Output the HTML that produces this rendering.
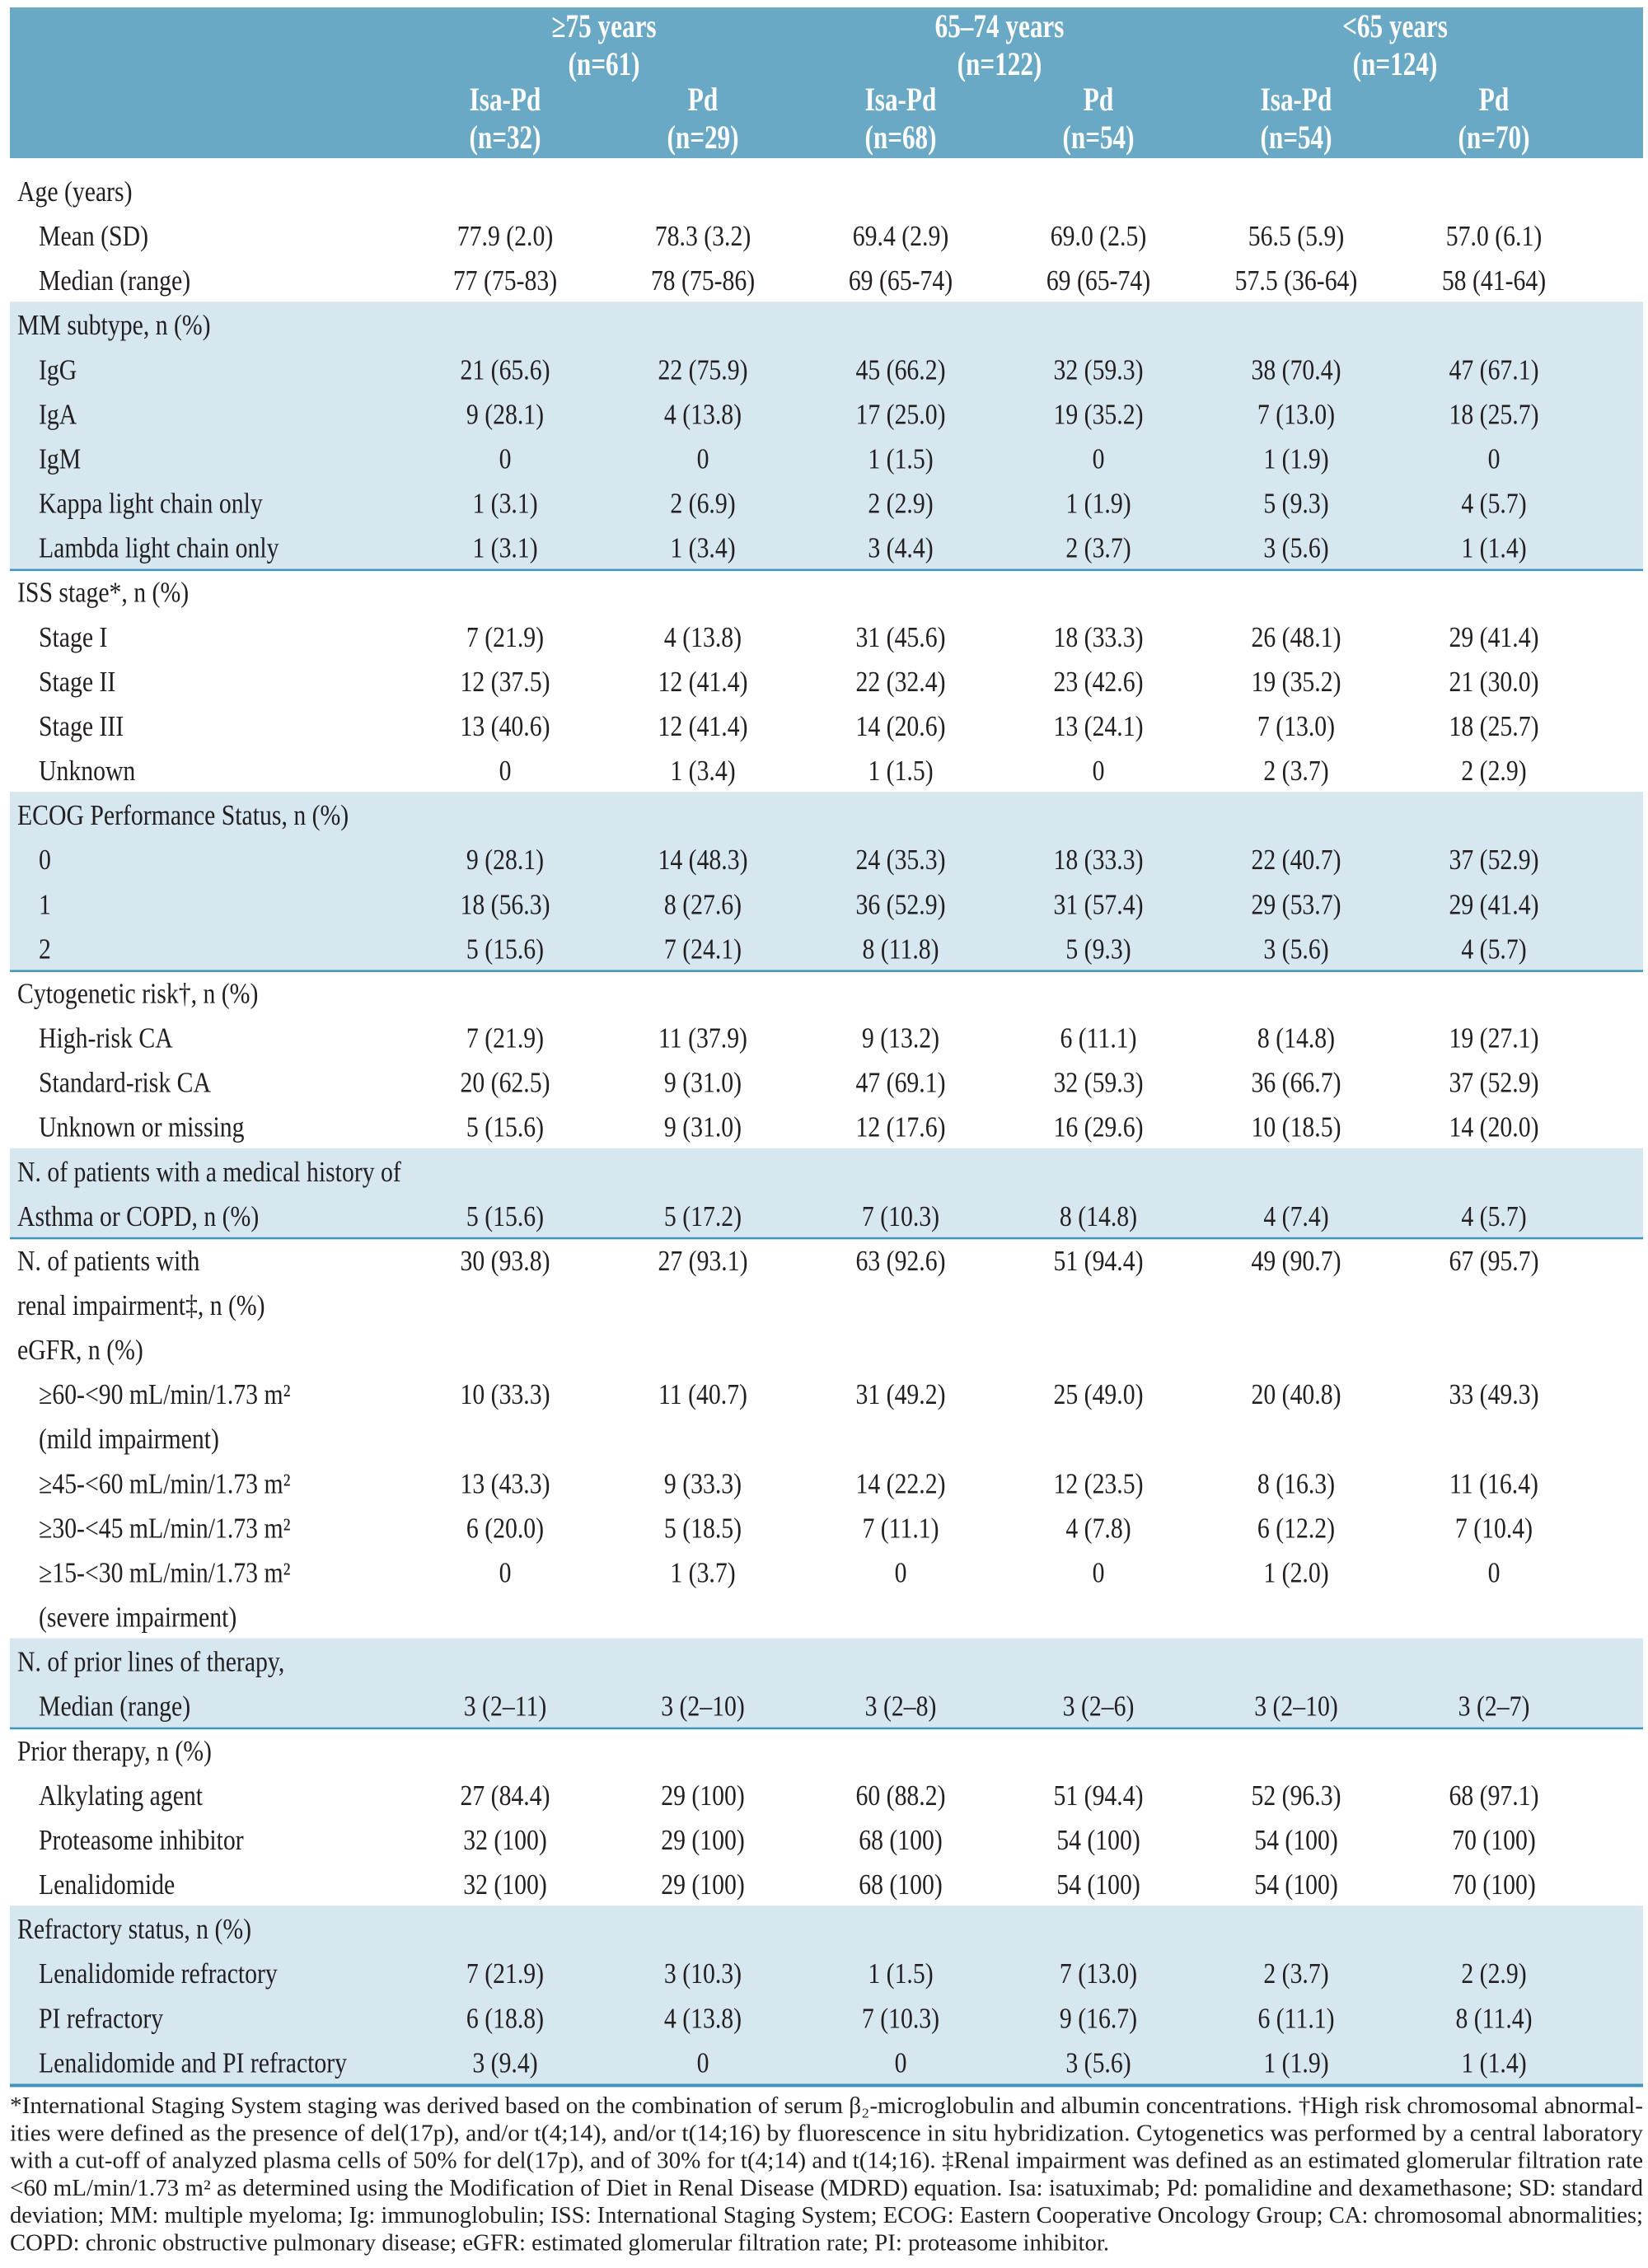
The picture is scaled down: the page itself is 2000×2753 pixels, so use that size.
<!DOCTYPE html>
<html><head><meta charset="utf-8"><style>
html,body{margin:0;padding:0;background:#fff}
svg{display:block}
text{font-family:"Liberation Serif",serif;fill:#231f20}
</style></head><body>
<svg id="t" width="2000" height="2753" viewBox="0 0 2000 2753" xmlns="http://www.w3.org/2000/svg"></svg>
<script>
const groupHeaders=[["≥75 years","(n=61)"],["65–74 years","(n=122)"],["<65 years","(n=124)"]];
const armHeaders=[["Isa-Pd","(n=32)"],["Pd","(n=29)"],["Isa-Pd","(n=68)"],["Pd","(n=54)"],["Isa-Pd","(n=54)"],["Pd","(n=70)"]];
// [label, indent(0/1), band(0/1), lineBelow(0/1), values]
const rows=[
["Age (years)",0,0,0,[]],
["Mean (SD)",1,0,0,["77.9 (2.0)","78.3 (3.2)","69.4 (2.9)","69.0 (2.5)","56.5 (5.9)","57.0 (6.1)"]],
["Median (range)",1,0,0,["77 (75-83)","78 (75-86)","69 (65-74)","69 (65-74)","57.5 (36-64)","58 (41-64)"]],
["MM subtype, n (%)",0,1,0,[]],
["IgG",1,1,0,["21 (65.6)","22 (75.9)","45 (66.2)","32 (59.3)","38 (70.4)","47 (67.1)"]],
["IgA",1,1,0,["9 (28.1)","4 (13.8)","17 (25.0)","19 (35.2)","7 (13.0)","18 (25.7)"]],
["IgM",1,1,0,["0","0","1 (1.5)","0","1 (1.9)","0"]],
["Kappa light chain only",1,1,0,["1 (3.1)","2 (6.9)","2 (2.9)","1 (1.9)","5 (9.3)","4 (5.7)"]],
["Lambda light chain only",1,1,1,["1 (3.1)","1 (3.4)","3 (4.4)","2 (3.7)","3 (5.6)","1 (1.4)"]],
["ISS stage*, n (%)",0,0,0,[]],
["Stage I",1,0,0,["7 (21.9)","4 (13.8)","31 (45.6)","18 (33.3)","26 (48.1)","29 (41.4)"]],
["Stage II",1,0,0,["12 (37.5)","12 (41.4)","22 (32.4)","23 (42.6)","19 (35.2)","21 (30.0)"]],
["Stage III",1,0,0,["13 (40.6)","12 (41.4)","14 (20.6)","13 (24.1)","7 (13.0)","18 (25.7)"]],
["Unknown",1,0,0,["0","1 (3.4)","1 (1.5)","0","2 (3.7)","2 (2.9)"]],
["ECOG Performance Status, n (%)",0,1,0,[]],
["0",1,1,0,["9 (28.1)","14 (48.3)","24 (35.3)","18 (33.3)","22 (40.7)","37 (52.9)"]],
["1",1,1,0,["18 (56.3)","8 (27.6)","36 (52.9)","31 (57.4)","29 (53.7)","29 (41.4)"]],
["2",1,1,1,["5 (15.6)","7 (24.1)","8 (11.8)","5 (9.3)","3 (5.6)","4 (5.7)"]],
["Cytogenetic risk†, n (%)",0,0,0,[]],
["High-risk CA",1,0,0,["7 (21.9)","11 (37.9)","9 (13.2)","6 (11.1)","8 (14.8)","19 (27.1)"]],
["Standard-risk CA",1,0,0,["20 (62.5)","9 (31.0)","47 (69.1)","32 (59.3)","36 (66.7)","37 (52.9)"]],
["Unknown or missing",1,0,0,["5 (15.6)","9 (31.0)","12 (17.6)","16 (29.6)","10 (18.5)","14 (20.0)"]],
["N. of patients with a medical history of",0,1,0,[]],
["Asthma or COPD, n (%)",0,1,1,["5 (15.6)","5 (17.2)","7 (10.3)","8 (14.8)","4 (7.4)","4 (5.7)"]],
["N. of patients with",0,0,0,["30 (93.8)","27 (93.1)","63 (92.6)","51 (94.4)","49 (90.7)","67 (95.7)"]],
["renal impairment‡, n (%)",0,0,0,[]],
["eGFR, n (%)",0,0,0,[]],
["≥60-<90 mL/min/1.73 m²",1,0,0,["10 (33.3)","11 (40.7)","31 (49.2)","25 (49.0)","20 (40.8)","33 (49.3)"]],
["(mild impairment)",1,0,0,[]],
["≥45-<60 mL/min/1.73 m²",1,0,0,["13 (43.3)","9 (33.3)","14 (22.2)","12 (23.5)","8 (16.3)","11 (16.4)"]],
["≥30-<45 mL/min/1.73 m²",1,0,0,["6 (20.0)","5 (18.5)","7 (11.1)","4 (7.8)","6 (12.2)","7 (10.4)"]],
["≥15-<30 mL/min/1.73 m²",1,0,0,["0","1 (3.7)","0","0","1 (2.0)","0"]],
["(severe impairment)",1,0,0,[]],
["N. of prior lines of therapy,",0,1,0,[]],
["Median (range)",1,1,1,["3 (2–11)","3 (2–10)","3 (2–8)","3 (2–6)","3 (2–10)","3 (2–7)"]],
["Prior therapy, n (%)",0,0,0,[]],
["Alkylating agent",1,0,0,["27 (84.4)","29 (100)","60 (88.2)","51 (94.4)","52 (96.3)","68 (97.1)"]],
["Proteasome inhibitor",1,0,0,["32 (100)","29 (100)","68 (100)","54 (100)","54 (100)","70 (100)"]],
["Lenalidomide",1,0,0,["32 (100)","29 (100)","68 (100)","54 (100)","54 (100)","70 (100)"]],
["Refractory status, n (%)",0,1,0,[]],
["Lenalidomide refractory",1,1,0,["7 (21.9)","3 (10.3)","1 (1.5)","7 (13.0)","2 (3.7)","2 (2.9)"]],
["PI refractory",1,1,0,["6 (18.8)","4 (13.8)","7 (10.3)","9 (16.7)","6 (11.1)","8 (11.4)"]],
["Lenalidomide and PI refractory",1,1,2,["3 (9.4)","0","0","3 (5.6)","1 (1.9)","1 (1.4)"]]
];
const footnotes=[
"*International Staging System staging was derived based on the combination of serum β₂-microglobulin and albumin concentrations. †High risk chromosomal abnormal-",
"ities were defined as the presence of del(17p), and/or t(4;14), and/or t(14;16) by fluorescence in situ hybridization. Cytogenetics was performed by a central laboratory",
"with a cut-off of analyzed plasma cells of 50% for del(17p), and of 30% for t(4;14) and t(14;16). ‡Renal impairment was defined as an estimated glomerular filtration rate",
"<60 mL/min/1.73 m² as determined using the Modification of Diet in Renal Disease (MDRD) equation. Isa: isatuximab; Pd: pomalidine and dexamethasone; SD: standard",
"deviation; MM: multiple myeloma; Ig: immunoglobulin; ISS: International Staging System; ECOG: Eastern Cooperative Oncology Group; CA: chromosomal abnormalities;",
"COPD: chronic obstructive pulmonary disease; eGFR: estimated glomerular filtration rate; PI: proteasome inhibitor."
];

const NS="http://www.w3.org/2000/svg";
const svg=document.getElementById('t');
const L=12,R=1994,colX=[613,853,1093,1333,1573,1813],grpX=[733,1213,1693];
const row0=233,pitch=54.08;
function rowC(i){return row0+i*pitch;}
function mk(tag,attrs,parent){const e=document.createElementNS(NS,tag);for(const k in attrs)e.setAttribute(k,attrs[k]);(parent||svg).appendChild(e);return e;}
function txt(s,x,y,size,anchor,weight,fill,sx){
  const e=mk('text',{transform:`translate(${x},${y}) scale(${sx},1)`,'font-size':size,'text-anchor':anchor});
  if(weight)e.setAttribute('font-weight',weight);
  if(fill)e.setAttribute('style','fill:'+fill);
  e.textContent=s;return e;
}
// header
const hb=mk('rect',{x:L,y:9,width:R-L,height:183,fill:'#6aa9c6'});


groupHeaders.forEach((g,i)=>{
  const a=txt(g[0],grpX[i],45,40,'middle','bold','#fff',0.78);
  
  
  const b=txt(g[1],grpX[i],91,40,'middle','bold','#fff',0.78);
  
  
});
armHeaders.forEach((h,i)=>{
  const a=txt(h[0],colX[i],134,40,'middle','bold','#fff',0.78);
  
  
  const b=txt(h[1],colX[i],180,40,'middle','bold','#fff',0.78);
  
  
});
// bands
rows.forEach((r,i)=>{
  const c=rowC(i);
  if(r[2]){
    const b=mk('rect',{x:L,y:(c-29).toFixed(1),width:R-L,height:(pitch+0.6).toFixed(1),fill:'#d6e7f0'});
    
    
  }
});
rows.forEach((r,i)=>{
  const c=rowC(i);
  if(r[3]){
    const ln=mk('rect',{x:L,y:(c+25).toFixed(1),width:R-L,height:r[3]==2?4:2.5,fill:'#3f95b9'});
    
    
  }
  const lab=txt(r[0],r[1]?47:21,(c+11).toFixed(1),35,'start',null,null,0.85);
  
  
  r[4].forEach((v,j)=>{
    const t=txt(v,colX[j],(c+11).toFixed(1),35,'middle',null,null,0.85);
    
    
  });
});
// footnotes
footnotes.forEach((f,i)=>{
  const y=2565+i*33.3;
  const e=mk('text',{x:L,y:y.toFixed(1),'font-size':28});
  if(i<footnotes.length-1){e.setAttribute('textLength',R-L);e.setAttribute('lengthAdjust','spacingAndGlyphs');}
  else{e.setAttribute('textLength',1334);e.setAttribute('lengthAdjust','spacingAndGlyphs');}
  
  
  e.textContent=f;
});
</script>
</body></html>
